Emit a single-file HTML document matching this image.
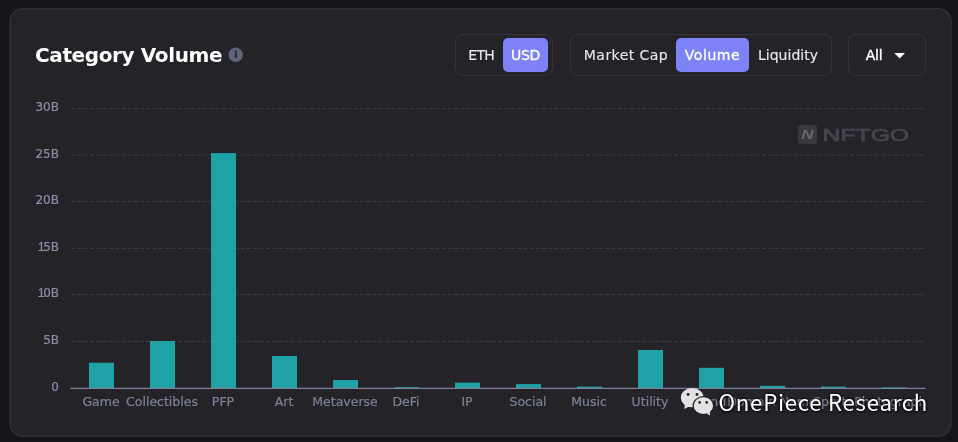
<!DOCTYPE html>
<html lang="en">
<head>
<meta charset="utf-8">
<title>Category Volume</title>
<style>
  html, body { margin: 0; padding: 0; }
  body {
    width: 958px; height: 442px; overflow: hidden; position: relative;
    background: #15141a;
    font-family: "Liberation Sans", sans-serif;
    color: #fff;
  }
  .title {
    position: absolute; left: 35px; top: 43px; height: 24px; line-height: 24px;
    font-family: "DejaVu Sans", "Liberation Sans", sans-serif;
    font-size: 20px; font-weight: bold; color: #fff; white-space: nowrap;
    letter-spacing: -0.38px;
  }
  .info {
    position: absolute; left: 228px; top: 47.2px; width: 15px; height: 15px;
  }
  .grp {
    position: absolute; top: 34px; height: 40px;
    border: 1px solid #33343b; border-radius: 8px; box-sizing: content-box;
  }
  .btn {
    position: absolute; top: 38px; height: 34px; line-height: 35px;
    font-family: "DejaVu Sans", "Liberation Sans", sans-serif;
    font-size: 14px; color: #e6e6ea; -webkit-text-stroke: 0.15px #e6e6ea; text-align: center; white-space: nowrap;
    border-radius: 5px;
  }
  .btn.on { background: #7d82f6; color: #fff; -webkit-text-stroke: 0.3px #fff; }
  .ylab {
    position: absolute; left: 20px; width: 39px; text-align: right;
    font-family: "DejaVu Sans", "Liberation Sans", sans-serif;
    font-size: 12px; color: #8a8ca3; height: 14px; line-height: 14px; -webkit-text-stroke: 0.2px #8a8ca3;
  }
  .one { font-family: "Liberation Sans", sans-serif; font-size: 12.5px; letter-spacing: -1.6px; }
  .xlab {
    position: absolute; top: 393.7px; width: 100px; margin-left: -50px; text-align: center;
    font-family: "DejaVu Sans", "Liberation Sans", sans-serif;
    font-size: 12.5px; color: #7d8097; -webkit-text-stroke: 0.2px #7d8097; height: 16px; line-height: 16px; white-space: nowrap;
  }
  .wm {
    position: absolute; left: 718.6px; top: 383.8px; height: 34px; line-height: 34px;
    font-family: "Noto Sans CJK SC", "Liberation Sans", sans-serif;
    font-size: 22.3px; letter-spacing: 0.68px; color: #fff; white-space: nowrap;
    text-shadow: 0 0 2px rgba(0,0,0,.9), 0 0 3px rgba(0,0,0,.7), 1px 1px 2px rgba(0,0,0,.6);
  }
</style>
</head>
<body>
<svg style="position:absolute;left:0;top:0" width="958" height="442" viewBox="0 0 958 442"><rect x="10" y="8.9" width="941" height="427.2" rx="12.5" fill="#232328" stroke="#2d2e36" stroke-width="1.6"/></svg>

<div class="title">Category Volume</div>
<svg class="info" viewBox="0 0 15 15">
  <circle cx="7.7" cy="7.8" r="7.2" fill="#5f637c"/>
  <rect x="6.8" y="6.4" width="2" height="4.5" fill="#232328"/>
  <circle cx="7.8" cy="4.7" r="1.1" fill="#232328"/>
</svg>

<!-- toggle groups -->
<div class="grp" style="left:455px;width:96px"></div>
<div class="btn" style="left:459.2px;width:44px;letter-spacing:-0.7px">ETH</div>
<div class="btn on" style="left:503px;width:45px;letter-spacing:-0.35px">USD</div>

<div class="grp" style="left:570px;width:260px"></div>
<div class="btn" style="left:576px;width:100px;letter-spacing:0.45px">Market Cap</div>
<div class="btn on" style="left:676px;width:73px;letter-spacing:0.55px">Volume</div>
<div class="btn" style="left:749px;width:78px">Liquidity</div>

<div class="grp" style="left:848px;width:76px"></div>
<div class="btn" style="left:859px;width:30px;color:#fff;-webkit-text-stroke:0.35px #fff;letter-spacing:-0.3px">All</div>
<svg style="position:absolute;left:893px;top:52px" width="14" height="9" viewBox="0 0 14 9"><path d="M1.3 1 L12 1 L6.65 6.6 Z" fill="#fff"/></svg>

<!-- chart -->
<svg style="position:absolute;left:0;top:0" width="958" height="442" viewBox="0 0 958 442">
  <g stroke="#3d3e47" stroke-width="1" stroke-dasharray="4.2 2.08" fill="none">
    <line x1="71" y1="108.7" x2="925.5" y2="108.7"/>
    <line x1="71" y1="155.0" x2="925.5" y2="155.0"/>
    <line x1="71" y1="201.6" x2="925.5" y2="201.6"/>
    <line x1="71" y1="248.4" x2="925.5" y2="248.4"/>
    <line x1="71" y1="294.7" x2="925.5" y2="294.7"/>
    <line x1="71" y1="341.4" x2="925.5" y2="341.4"/>
  </g>
  <g fill="#1fa2a6">
    <rect x="89" y="362.7" width="25" height="25.3"/>
    <rect x="150" y="341.0" width="25" height="47.0"/>
    <rect x="211" y="153.1" width="25" height="234.9"/>
    <rect x="272" y="356.0" width="25" height="32.0"/>
    <rect x="333" y="380.1" width="25" height="7.9"/>
    <rect x="394" y="387.2" width="25" height="0.8"/>
    <rect x="455" y="382.6" width="25" height="5.4"/>
    <rect x="516" y="384.1" width="25" height="3.9"/>
    <rect x="577" y="386.6" width="25" height="1.4"/>
    <rect x="638" y="350.0" width="25" height="38.0"/>
    <rect x="699" y="367.8" width="25" height="20.2"/>
    <rect x="760" y="385.8" width="25" height="2.2"/>
    <rect x="821" y="386.6" width="25" height="1.4"/>
    <rect x="882" y="387.4" width="25" height="0.6"/>
  </g>
  <line x1="70.3" y1="388.35" x2="925.6" y2="388.35" stroke="#7d8098" stroke-width="1.15"/>
</svg>

<div class="ylab" style="top:100.1px">30B</div>
<div class="ylab" style="top:146.7px">25B</div>
<div class="ylab" style="top:193.2px">20B</div>
<div class="ylab" style="top:239.8px"><span class="one">1</span>5B</div>
<div class="ylab" style="top:286.4px"><span class="one">1</span>0B</div>
<div class="ylab" style="top:332.9px">5B</div>
<div class="ylab" style="top:379.5px">0</div>

<div style="position:absolute;left:0;top:0;width:925.6px;height:442px;overflow:hidden">
<div class="xlab" style="left:101px">Game</div>
<div class="xlab" style="left:162px">Collectibles</div>
<div class="xlab" style="left:223px">PFP</div>
<div class="xlab" style="left:284px">Art</div>
<div class="xlab" style="left:345px">Metaverse</div>
<div class="xlab" style="left:406px">DeFi</div>
<div class="xlab" style="left:467px">IP</div>
<div class="xlab" style="left:528px">Social</div>
<div class="xlab" style="left:589px">Music</div>
<div class="xlab" style="left:650px">Utility</div>
<div class="xlab" style="left:711px">Land</div>
<div class="xlab" style="left:772px">Domain Name</div>
<div class="xlab" style="left:833px">Sports</div>
<div class="xlab" style="left:894px">Photography</div>
</div>

<!-- NFTGO chart watermark -->
<svg style="position:absolute;left:797px;top:124px" width="116" height="22" viewBox="0 0 116 22">
  <rect x="1" y="1" width="19" height="19" rx="3.2" fill="#39393f"/>
  <text x="4.2" y="15.4" font-family="Liberation Sans, sans-serif" font-size="13.5" font-weight="bold" font-style="italic" fill="#66676f" textLength="12.2" lengthAdjust="spacingAndGlyphs">N</text>
  <text x="25.6" y="17" font-family="Liberation Sans, sans-serif" font-size="17" fill="#44454f" stroke="#44454f" stroke-width="0.7" textLength="86.5" lengthAdjust="spacingAndGlyphs">NFTGO</text>
</svg>

<!-- wechat watermark -->
<svg style="position:absolute;left:680px;top:386px" width="36" height="32" viewBox="0 0 36 32">
  <g fill="#e3e3e3">
    <ellipse cx="12.2" cy="11.6" rx="11.3" ry="9.6"/>
    <path d="M5 17.5 L4.4 23 L10.5 19.8 Z"/>
  </g>
  <g fill="#e3e3e3" stroke="#232328" stroke-width="1.2">
    <ellipse cx="23.4" cy="19.7" rx="10.3" ry="9"/>
  </g>
  <path d="M26.5 27.6 L30.2 29.4 L29.6 25 Z" fill="#e3e3e3"/>
  <g fill="#232328">
    <circle cx="8.1" cy="8.5" r="1.45"/><circle cx="17" cy="8.5" r="1.45"/>
    <circle cx="19.7" cy="16.4" r="1.3"/><circle cx="26.7" cy="16.4" r="1.3"/>
  </g>
</svg>
<div class="wm">OnePiece Research</div>

</body>
</html>
